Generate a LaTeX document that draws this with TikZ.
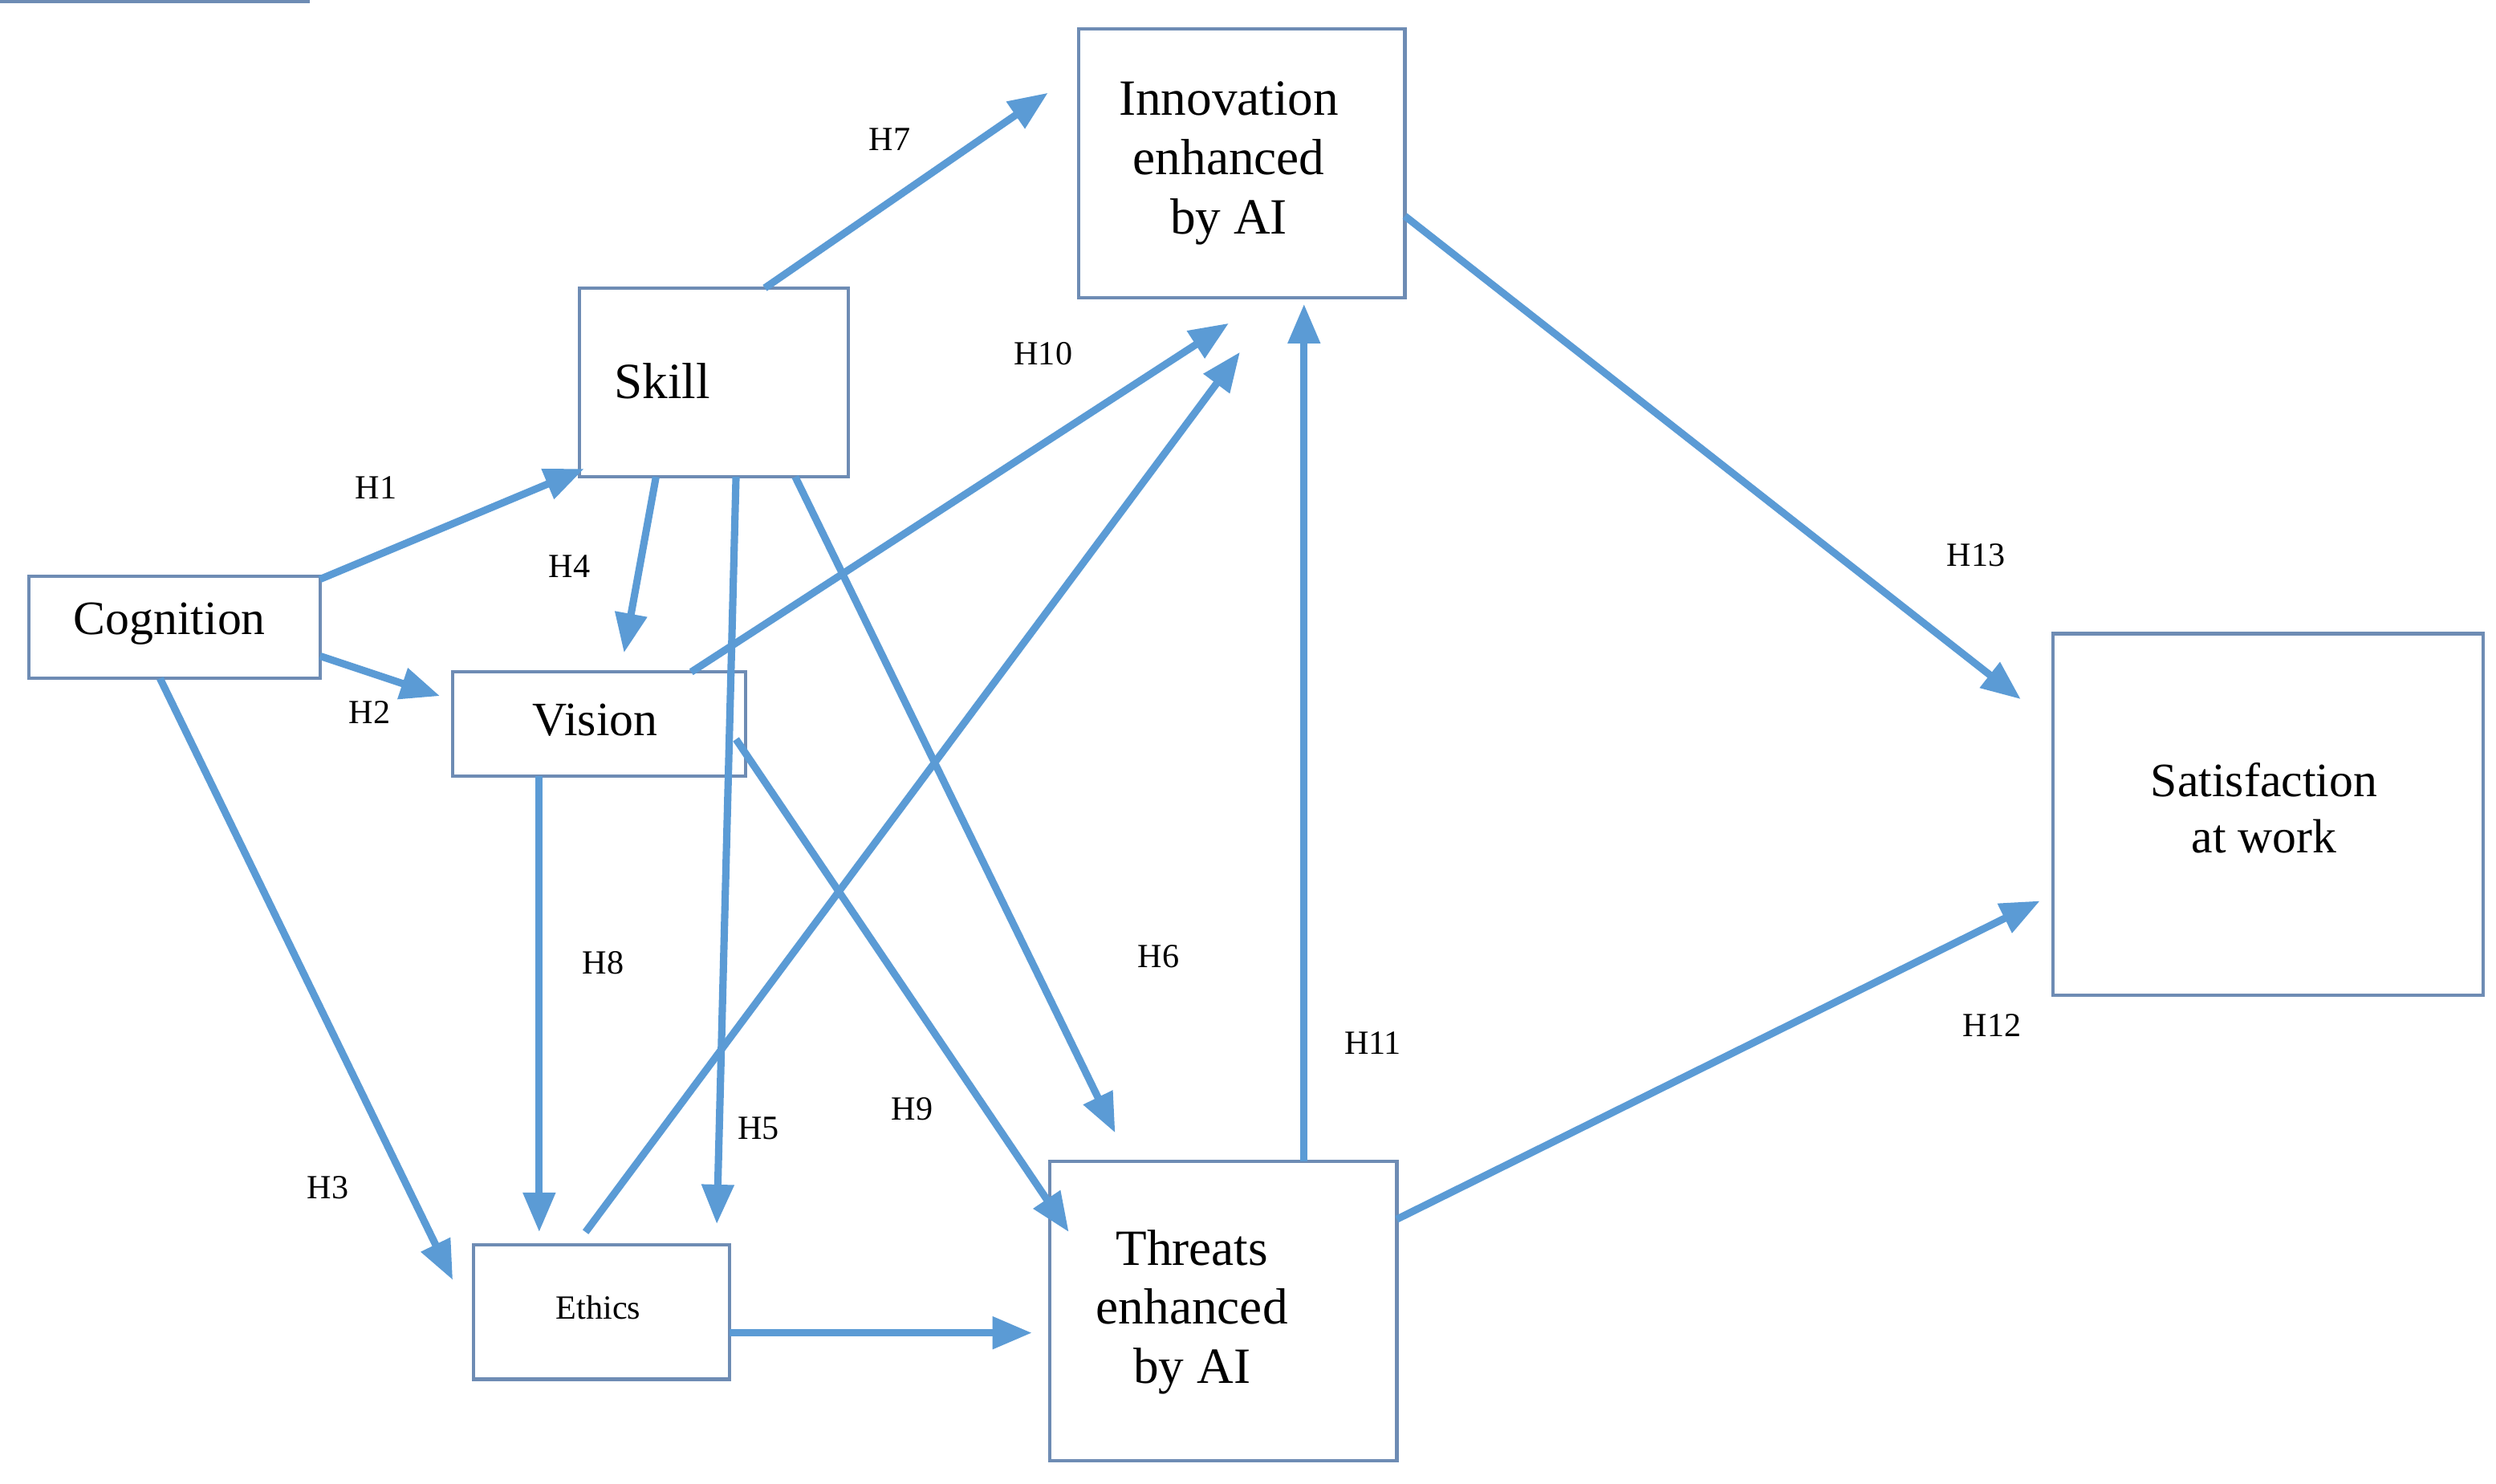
\documentclass[tikz,border=0pt]{standalone}
\usepackage{fontspec}
\setmainfont{Liberation Serif}
\usetikzlibrary{arrows.meta}
\definecolor{arr}{RGB}{91,155,213}
\definecolor{bx}{RGB}{110,140,180}
\begin{document}
\begin{tikzpicture}[x=0.01994cm,y=-0.01994cm,
 box/.style={draw=bx,line width=1.2pt,inner sep=0pt},
 ar/.style={draw=arr,line width=2.6pt,-{Triangle[length=14pt,width=11pt]}},
 lab/.style={font=\fontsize{12}{12}\selectfont}]
\useasboundingbox (0,0) rectangle (1560,927);
\node[box,minimum width=182\pgflinewidth] at (0,0) {};
\draw[bx,line width=1.2pt] (18,360) rectangle (200,424); \node (cog) at (106,390) {\fontsize{17}{17}\selectfont Cognition};
\draw[bx,line width=1.2pt] (362,180) rectangle (530,298); \node (skill) at (414,238) {\fontsize{18}{18}\selectfont Skill};
\draw[bx,line width=1.2pt] (283,420) rectangle (466,485); \node (vis) at (372,450) {\fontsize{17}{17}\selectfont Vision};
\draw[bx,line width=1.2pt] (296,778) rectangle (456,862); \node (eth) at (374,817) {\fontsize{12}{12}\selectfont Ethics};
\draw[bx,line width=1.2pt] (674,18) rectangle (878,186); \node[align=center,font=\fontsize{18}{21}\selectfont] (inn) at (768,102) {Innovation\\enhanced\\by AI};
\draw[bx,line width=1.2pt] (656,726) rectangle (873,913); \node[align=center,font=\fontsize{18}{21}\selectfont] (thr) at (745,820) {Threats\\enhanced\\by AI};
\draw[bx,line width=1.2pt] (1283,396) rectangle (1552,622); \node[align=center,font=\fontsize{17}{20}\selectfont] (sat) at (1415,505) {Satisfaction\\at work};
\foreach \n/\x/\y in {a1/200/362,b1/365/293,a2/200/410,b2/275/435,a3/100/424,b3/283/800,
 a4/410/298,b4/390/408,a5/460/298,b5/448/765,a6/497/298,b6/697/708,a7/478/180,b7/655/58,
 a8/337/485,b8/337/770,a9/460/462,b9/668/770,a10/432/420,b10/768/202,a14/366/770,b14/775/220,
 a15/456/833,b15/645/833,a11/815/726,b11/815/190,a13/878/135,b13/1263/437,a12/873/762,b12/1275/563}
 \coordinate (\n) at (\x,\y);
\foreach \i in {1,...,15} {\ifnum\i=14\else\fi}
\foreach \i in {1,2,3,4,5,6,7,8,9,10,11,12,13,14,15} \draw[ar] (a\i) -- (b\i);
\foreach \t/\x/\y in {H1/235/305,H2/231/445,H3/205/742,H4/356/354,H5/474/705,H6/724/598,H7/556/87,H8/377/602,H9/570/693,H10/652/221,H11/858/652,H12/1245/641,H13/1235/347}
 \node[lab] (l\t) at (\x,\y) {\t};
\end{tikzpicture}
\end{document}
